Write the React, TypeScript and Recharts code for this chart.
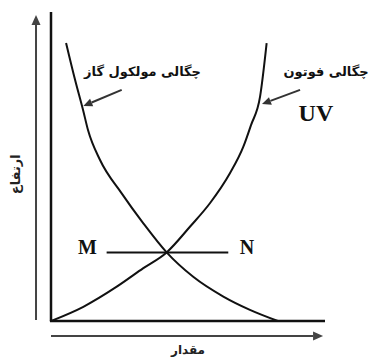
import React from 'react';
import { LineChart, Line, XAxis, YAxis, ReferenceLine, ReferenceDot } from 'recharts';

const gasCurve = [
  { x: 5.5, y: 90.0 },
  { x: 8.8, y: 78.0 },
  { x: 11.7, y: 68.3 },
  { x: 13.5, y: 61.8 },
  { x: 17.9, y: 52.1 },
  { x: 25.8, y: 41.3 },
  { x: 33.7, y: 31.6 },
  { x: 42.2, y: 22.2 },
  { x: 51.9, y: 14.3 },
  { x: 62.9, y: 7.9 },
  { x: 72.6, y: 3.6 },
  { x: 82.8, y: 0 },
];

const photonCurve = [
  { x: 0, y: 0 },
  { x: 11.8, y: 4.6 },
  { x: 24.0, y: 11.1 },
  { x: 33.7, y: 17.1 },
  { x: 42.2, y: 22.2 },
  { x: 50.7, y: 30.5 },
  { x: 58.0, y: 38.1 },
  { x: 65.3, y: 47.8 },
  { x: 70.2, y: 56.4 },
  { x: 73.0, y: 63.4 },
  { x: 76.3, y: 72.6 },
  { x: 78.7, y: 89.9 },
];

const mnLevel = 22.2;
const mnRange = [20.3, 64.7];

const labelGas = 'چگالی مولکول گاز';
const labelPhoton = 'چگالی فوتون';
const labelUV = 'UV';
const labelY = 'ارتفاع';
const labelX = 'مقدار';

const persianFont = '"DejaVu Sans", sans-serif';
const serifFont = '"Liberation Serif", "Times New Roman", serif';

const arrowShape = (color: string, width: number, head: number) => (props: any) => {
  const { x1, y1, x2, y2 } = props;
  const ang = Math.atan2(y2 - y1, x2 - x1);
  const hx = x2 - Math.cos(ang) * head;
  const hy = y2 - Math.sin(ang) * head;
  const w = head * 0.45;
  const px = -Math.sin(ang) * w;
  const py = Math.cos(ang) * w;
  return (
    <g>
      <line x1={x1} y1={y1} x2={hx} y2={hy} stroke={color} strokeWidth={width} />
      <polygon points={`${x2},${y2} ${hx + px},${hy + py} ${hx - px},${hy - py}`} fill={color} />
    </g>
  );
};

const textShape = (text: string, opts: any) => (props: any) => {
  const { cx, cy } = props;
  const { rotate, ...rest } = opts;
  return (
    <text
      x={cx}
      y={cy}
      dominantBaseline="central"
      transform={rotate ? `rotate(${rotate} ${cx} ${cy})` : undefined}
      {...rest}
    >
      {text}
    </text>
  );
};

export default function App() {
  return (
    <div style={{ position: 'absolute', left: 0, top: 0, background: '#fff' }}>
      <LineChart
        width={372}
        height={359}
        margin={{ top: 12, right: 47, bottom: 38, left: 51 }}
      >
        <XAxis
          type="number"
          dataKey="x"
          domain={[0, 100]}
          hide
          allowDataOverflow
        />
        <YAxis
          type="number"
          dataKey="y"
          domain={[0, 100]}
          hide
          allowDataOverflow
        />
        {/* axes */}
        <ReferenceLine
          segment={[{ x: 0, y: 0 }, { x: 0, y: 100 }]}
          stroke="#111"
          strokeWidth={2.5}
          ifOverflow="visible"
        />
        <ReferenceLine
          segment={[{ x: -0.4, y: 0 }, { x: 100, y: 0 }]}
          stroke="#111"
          strokeWidth={2.5}
          ifOverflow="visible"
        />
        <Line
          data={gasCurve}
          dataKey="y"
          type="monotone"
          stroke="#111"
          strokeWidth={2}
          dot={false}
          isAnimationActive={false}
        />
        <Line
          data={photonCurve}
          dataKey="y"
          type="monotone"
          stroke="#111"
          strokeWidth={2}
          dot={false}
          isAnimationActive={false}
        />
        <ReferenceLine
          segment={[{ x: mnRange[0], y: mnLevel }, { x: mnRange[1], y: mnLevel }]}
          stroke="#111"
          strokeWidth={2}
          ifOverflow="visible"
        />
        {/* outer axis arrows */}
        <ReferenceLine
          segment={[{ x: -5.47, y: 0.3 }, { x: -5.47, y: 99.0 }]}
          ifOverflow="visible"
          shape={arrowShape('#444', 2, 10)}
        />
        <ReferenceLine
          segment={[{ x: 0, y: -4.85 }, { x: 99.3, y: -4.85 }]}
          ifOverflow="visible"
          shape={arrowShape('#444', 2, 10)}
        />
        {/* label pointer arrows */}
        <ReferenceLine
          segment={[{ x: 25.8, y: 74.8 }, { x: 11.8, y: 69.6 }]}
          ifOverflow="visible"
          shape={arrowShape('#333', 2, 9)}
        />
        <ReferenceLine
          segment={[{ x: 90.9, y: 74.8 }, { x: 77.0, y: 70.2 }]}
          ifOverflow="visible"
          shape={arrowShape('#333', 2, 9)}
        />
        {/* texts */}
        <ReferenceDot
          x={33.4} y={80.6} r={0} ifOverflow="visible"
          shape={textShape(labelGas, { textAnchor: 'middle', fontFamily: persianFont, fontWeight: 'bold', fontSize: 13, fill: '#111' })}
        />
        <ReferenceDot
          x={100.4} y={80.6} r={0} ifOverflow="visible"
          shape={textShape(labelPhoton, { textAnchor: 'middle', fontFamily: persianFont, fontWeight: 'bold', fontSize: 13, fill: '#111' })}
        />
        <ReferenceDot
          x={96.7} y={67.3} r={0} ifOverflow="visible"
          shape={textShape(labelUV, { textAnchor: 'middle', fontFamily: serifFont, fontWeight: 'bold', fontSize: 24, fill: '#111' })}
        />
        <ReferenceDot
          x={13.3} y={24.0} r={0} ifOverflow="visible"
          shape={textShape('M', { textAnchor: 'middle', fontFamily: serifFont, fontWeight: 'bold', fontSize: 20, fill: '#111' })}
        />
        <ReferenceDot
          x={71.5} y={24.0} r={0} ifOverflow="visible"
          shape={textShape('N', { textAnchor: 'middle', fontFamily: serifFont, fontWeight: 'bold', fontSize: 20, fill: '#111' })}
        />
        <ReferenceDot
          x={-13.1} y={47.5} r={0} ifOverflow="visible"
          shape={textShape(labelY, { textAnchor: 'middle', fontFamily: persianFont, fontWeight: 'bold', fontSize: 13, fill: '#222', rotate: -90 })}
        />
        <ReferenceDot
          x={50.0} y={-9.4} r={0} ifOverflow="visible"
          shape={textShape(labelX, { textAnchor: 'middle', fontFamily: persianFont, fontWeight: 'bold', fontSize: 12, fill: '#222' })}
        />
      </LineChart>
    </div>
  );
}
